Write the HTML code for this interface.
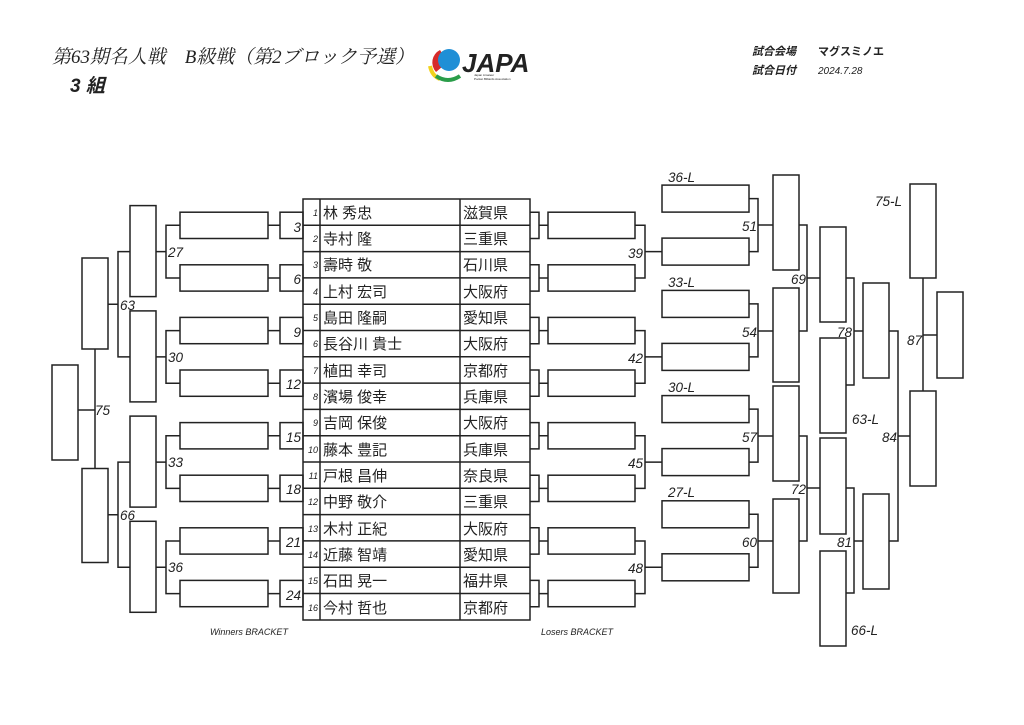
<!DOCTYPE html>
<html><head><meta charset="utf-8"><style>
body{margin:0;background:#fff;}
svg{display:block;}
text{font-family:"Liberation Sans","Noto Sans CJK JP",sans-serif;fill:#222;}
.l{font-size:13.5px;font-style:italic;}
.n{font-size:9px;font-style:italic;text-anchor:end;}
.t{font-size:15px;}
</style></head><body>
<svg width="1024" height="725" viewBox="0 0 1024 725" xmlns="http://www.w3.org/2000/svg">
<!-- header -->
<text x="52" y="63" style="font-family:'Liberation Serif','Noto Serif CJK JP',serif;font-size:19px;font-style:italic;" textLength="362" lengthAdjust="spacingAndGlyphs">第63期名人戦　B級戦（第2ブロック予選）</text>
<text x="70" y="92" style="font-size:19px;font-style:italic;font-weight:bold;">3 組</text>
<g>
<path d="M440 50 A14 14 0 0 0 436 72 L448 62 Z" fill="#d62b2b"/>
<circle cx="449" cy="60" r="11" fill="#1f8fd6"/>
<path d="M430 66 Q432 76 440 79" stroke="#f2d21c" stroke-width="4" fill="none"/>
<path d="M436 76 Q448 84 460 76" stroke="#2a9d4a" stroke-width="4" fill="none"/>
<text x="462" y="72" style="font-size:26px;font-weight:bold;font-style:italic;fill:#222;">JAPA</text>
<text x="474" y="76" style="font-size:3px;">Japan Amateur</text>
<text x="474" y="80" style="font-size:3px;">Pocket Billiards Association</text>
</g>
<text x="752" y="55" style="font-size:11px;font-weight:bold;font-style:italic;">試合会場</text>
<text x="818" y="55" style="font-size:11px;font-weight:bold;">マグスミノエ</text>
<text x="752" y="74" style="font-size:11px;font-weight:bold;font-style:italic;">試合日付</text>
<text x="818" y="74" style="font-size:10px;font-style:italic;">2024.7.28</text>

<g fill="none" stroke="#222" stroke-width="1.5">
<!-- table -->
<rect x="303" y="199" width="227" height="421"/>
<path d="M320 199V620M460 199V620"/>
<path d="M303 225.3H530M303 251.6H530M303 277.9H530M303 304.2H530M303 330.5H530M303 356.8H530M303 383.1H530M303 409.4H530M303 435.7H530M303 462H530M303 488.3H530M303 514.6H530M303 540.9H530M303 567.2H530M303 593.5H530"/>
<!-- left R1 boxes -->
<rect x="280" y="212.2" width="23" height="26.3"/><rect x="280" y="264.8" width="23" height="26.3"/>
<rect x="280" y="317.4" width="23" height="26.3"/><rect x="280" y="370" width="23" height="26.3"/>
<rect x="280" y="422.6" width="23" height="26.3"/><rect x="280" y="475.2" width="23" height="26.3"/>
<rect x="280" y="527.8" width="23" height="26.3"/><rect x="280" y="580.4" width="23" height="26.3"/>
<!-- left R2 boxes -->
<rect x="180" y="212.2" width="88" height="26.3"/><rect x="180" y="264.8" width="88" height="26.3"/>
<rect x="180" y="317.4" width="88" height="26.3"/><rect x="180" y="370" width="88" height="26.3"/>
<rect x="180" y="422.6" width="88" height="26.3"/><rect x="180" y="475.2" width="88" height="26.3"/>
<rect x="180" y="527.8" width="88" height="26.3"/><rect x="180" y="580.4" width="88" height="26.3"/>
<path d="M268 225.3H280M268 278H280M268 330.6H280M268 383.2H280M268 435.8H280M268 488.4H280M268 541H280M268 593.6H280"/>
<!-- quartet brackets -->
<path d="M180 225.3H166V278H180M166 251.6H156"/>
<path d="M180 330.6H166V383.2H180M166 356.9H156"/>
<path d="M180 435.8H166V488.4H180M166 462.1H156"/>
<path d="M180 541H166V593.6H180M166 567.3H156"/>
<rect x="130" y="205.6" width="26" height="91"/><rect x="130" y="310.9" width="26" height="91"/>
<rect x="130" y="416.1" width="26" height="91"/><rect x="130" y="521.3" width="26" height="91"/>
<path d="M130 251.6H118V356.9H130M118 304.3H108"/>
<path d="M130 462.1H118V567.3H130M118 514.7H108"/>
<rect x="82" y="258" width="26" height="91"/><rect x="82" y="468.5" width="26" height="94"/>
<path d="M95 349V468.5M78 410H95"/>
<rect x="52" y="365" width="26" height="95"/>

<!-- losers R1 -->
<path d="M530 212.2H539V238.5H530M539 225.3H548"/>
<path d="M530 264.8H539V291.1H530M539 278H548"/>
<path d="M530 317.4H539V343.7H530M539 330.6H548"/>
<path d="M530 370H539V396.3H530M539 383.2H548"/>
<path d="M530 422.6H539V448.9H530M539 435.8H548"/>
<path d="M530 475.2H539V501.5H530M539 488.4H548"/>
<path d="M530 527.8H539V554.1H530M539 541H548"/>
<path d="M530 580.4H539V606.7H530M539 593.6H548"/>
<rect x="548" y="212.2" width="87" height="26.3"/><rect x="548" y="264.8" width="87" height="26.3"/>
<rect x="548" y="317.4" width="87" height="26.3"/><rect x="548" y="370" width="87" height="26.3"/>
<rect x="548" y="422.6" width="87" height="26.3"/><rect x="548" y="475.2" width="87" height="26.3"/>
<rect x="548" y="527.8" width="87" height="26.3"/><rect x="548" y="580.4" width="87" height="26.3"/>
<path d="M635 225.3H645V278H635M645 251.6H662"/>
<path d="M635 330.6H645V383.2H635M645 356.9H662"/>
<path d="M635 435.8H645V488.4H635M645 462.1H662"/>
<path d="M635 541H645V593.6H635M645 567.3H662"/>
<!-- losers R2 -->
<rect x="662" y="185.1" width="87" height="27"/><rect x="662" y="238.1" width="87" height="27"/>
<rect x="662" y="290.4" width="87" height="27"/><rect x="662" y="343.4" width="87" height="27"/>
<rect x="662" y="395.6" width="87" height="27"/><rect x="662" y="448.6" width="87" height="27"/>
<rect x="662" y="500.8" width="87" height="27"/><rect x="662" y="553.8" width="87" height="27"/>
<path d="M749 198.6H758V251.6H749M758 225H773"/>
<path d="M749 303.9H758V356.9H749M758 331H773"/>
<path d="M749 409.1H758V462.1H749M758 436H773"/>
<path d="M749 514.3H758V567.3H749M758 541H773"/>
<rect x="773" y="175" width="26" height="95"/><rect x="773" y="288" width="26" height="94"/>
<rect x="773" y="386" width="26" height="95"/><rect x="773" y="499" width="26" height="94"/>
<path d="M799 225H807V331H799M807 278H820"/>
<path d="M799 436H807V541H799M807 488H820"/>
<rect x="820" y="227" width="26" height="95"/><rect x="820" y="338" width="26" height="95"/>
<rect x="820" y="438" width="26" height="96"/><rect x="820" y="551" width="26" height="95"/>
<path d="M846 278H854V385H846M854 331H863"/>
<path d="M846 488H854V593H846M854 541H863"/>
<rect x="863" y="283" width="26" height="95"/><rect x="863" y="494" width="26" height="95"/>
<path d="M889 331H898V541H889M898 436H910"/>
<rect x="910" y="184" width="26" height="94"/><rect x="910" y="391" width="26" height="95"/>
<path d="M923 278V391M923 335H937"/>
<rect x="937" y="292" width="26" height="86"/>
</g>

<!-- table text -->
<g class="n">
<text x="318" y="216">1</text><text x="318" y="242">2</text><text x="318" y="268">3</text><text x="318" y="295">4</text>
<text x="318" y="321">5</text><text x="318" y="347">6</text><text x="318" y="374">7</text><text x="318" y="400">8</text>
<text x="318" y="426">9</text><text x="318" y="453">10</text><text x="318" y="479">11</text><text x="318" y="505">12</text>
<text x="318" y="532">13</text><text x="318" y="558">14</text><text x="318" y="584">15</text><text x="318" y="611">16</text>
</g>
<g class="t">
<text x="323" y="218">林 秀忠</text><text x="323" y="244">寺村 隆</text><text x="323" y="270">壽時 敬</text><text x="323" y="297">上村 宏司</text>
<text x="323" y="323">島田 隆嗣</text><text x="323" y="349">長谷川 貴士</text><text x="323" y="376">植田 幸司</text><text x="323" y="402">濱場 俊幸</text>
<text x="323" y="428">吉岡 保俊</text><text x="323" y="455">藤本 豊記</text><text x="323" y="481">戸根 昌伸</text><text x="323" y="507">中野 敬介</text>
<text x="323" y="534">木村 正紀</text><text x="323" y="560">近藤 智靖</text><text x="323" y="586">石田 晃一</text><text x="323" y="613">今村 哲也</text>
<text x="463" y="218">滋賀県</text><text x="463" y="244">三重県</text><text x="463" y="270">石川県</text><text x="463" y="297">大阪府</text>
<text x="463" y="323">愛知県</text><text x="463" y="349">大阪府</text><text x="463" y="376">京都府</text><text x="463" y="402">兵庫県</text>
<text x="463" y="428">大阪府</text><text x="463" y="455">兵庫県</text><text x="463" y="481">奈良県</text><text x="463" y="507">三重県</text>
<text x="463" y="534">大阪府</text><text x="463" y="560">愛知県</text><text x="463" y="586">福井県</text><text x="463" y="613">京都府</text>
</g>

<!-- match labels -->
<g class="l" text-anchor="end">
<text x="301" y="232">3</text><text x="301" y="284">6</text><text x="301" y="337">9</text><text x="301" y="389">12</text>
<text x="301" y="442">15</text><text x="301" y="494">18</text><text x="301" y="547">21</text><text x="301" y="600">24</text>
<text x="643" y="258">39</text><text x="643" y="363">42</text><text x="643" y="468">45</text><text x="643" y="573">48</text>
<text x="757" y="231">51</text><text x="757" y="337">54</text><text x="757" y="442">57</text><text x="757" y="547">60</text>
<text x="806" y="284">69</text><text x="806" y="494">72</text>
<text x="852" y="337">78</text><text x="852" y="547">81</text>
<text x="897" y="442">84</text><text x="922" y="345">87</text>
</g>
<g class="l">
<text x="168" y="257">27</text><text x="168" y="362">30</text><text x="168" y="467">33</text><text x="168" y="572">36</text>
<text x="120" y="310">63</text><text x="120" y="520">66</text><text x="95" y="415">75</text>
<text x="668" y="182">36-L</text><text x="668" y="287">33-L</text><text x="668" y="392">30-L</text><text x="668" y="497">27-L</text>
<text x="875" y="206">75-L</text><text x="852" y="424">63-L</text><text x="851" y="635">66-L</text>
</g>
<text x="210" y="635" style="font-size:9px;font-style:italic;">Winners BRACKET</text>
<text x="541" y="635" style="font-size:9px;font-style:italic;">Losers BRACKET</text>
</svg>
</body></html>
